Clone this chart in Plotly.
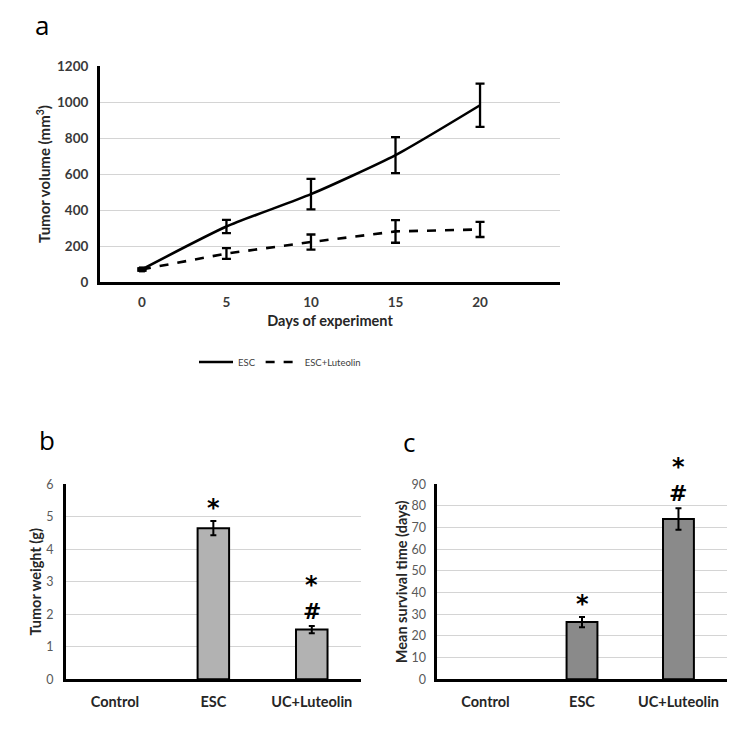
import plotly.graph_objects as go

# ---- Panel a data ----
days = [0, 5, 10, 15, 20]
esc_vol = [70, 308, 488, 705, 982]
esc_err = [6, 37, 85, 100, 120]
lut_vol = [70, 158, 222, 281, 292]
lut_err = [6, 30, 42, 63, 42]

# ---- Panel b data ----
groups = ["Control", "ESC", "UC+Luteolin"]
weight = [0, 4.65, 1.53]
weight_err = [0, 0.22, 0.11]

# ---- Panel c data ----
survival = [0, 26.4, 74.0]
survival_err = [0, 2.4, 5.0]

# page body has an 8px margin on every side; map reference pixel coords into the figure
OFF = 8
W, H = 750 - 2 * OFF, 736 - 2 * OFF
def px(x): return (x - OFF) / W
def py(y): return 1 - (y - OFF) / H

FONT = "Lato, Open Sans, sans-serif"
fig = go.Figure()

# Panel a traces
fig.add_trace(go.Scatter(
    x=days, y=esc_vol, mode="lines", name="ESC",
    line=dict(color="black", width=2.6, shape="spline", smoothing=0.6),
    error_y=dict(type="data", array=esc_err, color="black", thickness=2.3, width=4.5),
    xaxis="x", yaxis="y"))
fig.add_trace(go.Scatter(
    x=days, y=lut_vol, mode="lines", name="ESC+Luteolin",
    line=dict(color="black", width=2.6, dash="dash"),
    error_y=dict(type="data", array=lut_err, color="black", thickness=2.3, width=4.5),
    xaxis="x", yaxis="y"))
fig.add_trace(go.Scatter(
    x=days[:1], y=esc_vol[:1], mode="markers", showlegend=False,
    marker=dict(symbol="square", size=6, color="black"),
    xaxis="x", yaxis="y"))

def nonzero(vals, errs):
    keep = [i for i, v in enumerate(vals) if v > 0]
    return ([groups[i] for i in keep], [vals[i] for i in keep], [errs[i] for i in keep])

# Panel b
gx, gy, ge = nonzero(weight, weight_err)
fig.add_trace(go.Bar(
    x=gx, y=gy, width=0.32, showlegend=False,
    marker=dict(color="#b2b2b2", line=dict(color="black", width=2)),
    error_y=dict(type="data", array=ge, color="black", thickness=2, width=3),
    xaxis="x2", yaxis="y2"))

# Panel c
gx, gy, ge = nonzero(survival, survival_err)
fig.add_trace(go.Bar(
    x=gx, y=gy, width=0.32, showlegend=False,
    marker=dict(color="#8a8a8a", line=dict(color="black", width=2)),
    error_y=dict(type="data", array=ge, color="black", thickness=2, width=3),
    xaxis="x3", yaxis="y3"))

grid = "#d4d4d4"
tickbold = dict(family=FONT, size=13.5, color="#3a3a3a", weight="bold")
ticknorm = dict(family=FONT, size=12.5, color="#595959")
catfont = dict(family=FONT, size=14.5, color="#262626", weight="bold")
titlefont = dict(family=FONT, size=14.5, color="#262626", weight="bold")
titlefont_a = dict(family=FONT, size=15, color="#262626", weight="bold")

fig.update_layout(
    template="none",
    width=W, height=H, margin=dict(l=0, r=0, t=0, b=0, autoexpand=False),
    paper_bgcolor="white", plot_bgcolor="white",
    font=dict(family=FONT),
    showlegend=True,
    legend=dict(orientation="h", x=px(280), xanchor="center", y=py(362), yanchor="middle",
                font=dict(family=FONT, size=9.5, color="#404040"), itemwidth=34,
                bgcolor="rgba(0,0,0,0)"),
    xaxis=dict(domain=[px(100), px(560)], range=[-2.48, 24.73], tickvals=days,
               showgrid=False, zeroline=False, showline=True, linecolor="black", linewidth=3,
               tickfont=tickbold, ticks="", ticklabelstandoff=6, anchor="y", automargin=False,
               title=dict(text="Days of experiment", font=titlefont, standoff=7)),
    yaxis=dict(domain=[py(282), py(66)], range=[0, 1200], dtick=200,
               showgrid=True, gridcolor=grid, gridwidth=1, zeroline=False,
               showline=True, linecolor="black", linewidth=3, tickfont=tickbold, ticks="",
               ticklabelstandoff=6, anchor="x", automargin=False,
               title=dict(text="Tumor volume (mm<sup>3</sup>)", font=titlefont_a, standoff=3)),
    xaxis2=dict(domain=[px(65.7), px(361)], range=[-0.5, 2.5], categoryorder="array",
                categoryarray=groups, tickvals=groups,
                showgrid=False, zeroline=False,
                showline=True, linecolor="black", linewidth=2.5, tickfont=catfont,
                ticks="", ticklabelstandoff=8, anchor="y2", automargin=False),
    yaxis2=dict(domain=[py(679.3), py(484.3)], range=[0, 6], dtick=1,
                showgrid=True, gridcolor=grid, zeroline=False,
                showline=True, linecolor="black", linewidth=2.5, tickfont=ticknorm,
                ticks="", ticklabelstandoff=7, anchor="x2", automargin=False,
                title=dict(text="Tumor weight (g)", font=titlefont, standoff=2)),
    xaxis3=dict(domain=[px(437.3), px(726.7)], range=[-0.5, 2.5], categoryorder="array",
                categoryarray=groups, tickvals=groups,
                showgrid=False, zeroline=False,
                showline=True, linecolor="black", linewidth=2.5, tickfont=catfont,
                ticks="", ticklabelstandoff=8, anchor="y3", automargin=False),
    yaxis3=dict(domain=[py(679.3), py(484.3)], range=[0, 90], dtick=10,
                showgrid=True, gridcolor=grid, zeroline=False,
                showline=True, linecolor="black", linewidth=2.5, tickfont=ticknorm,
                ticks="", ticklabelstandoff=6, anchor="x3", automargin=False,
                title=dict(text="Mean survival time (days)", font=titlefont, standoff=1)),
)

anns = []
for txt, x, y in [("a", 42, 25), ("b", 47, 440), ("c", 409, 442)]:
    anns.append(dict(text=txt, x=px(x), y=py(y), xref="paper", yref="paper",
                     showarrow=False, xanchor="center", yanchor="middle",
                     font=dict(family="Open Sans, sans-serif", size=26, color="black")))
# significance markers
sig = [("x2", "y2", "ESC", 507.7, "*"), ("x2", "y2", "UC+Luteolin", 585, "*"),
       ("x2", "y2", "UC+Luteolin", 611, "#"),
       ("x3", "y3", "ESC", 604, "*"), ("x3", "y3", "UC+Luteolin", 467, "*"),
       ("x3", "y3", "UC+Luteolin", 493.3, "#")]
for xr, yr, cat, y, s in sig:
    anns.append(dict(text=s, x=cat, y=py(y), xref=xr, yref="paper", showarrow=False,
                     xanchor="center", yanchor="middle",
                     font=dict(family="DejaVu Sans", size=24 if s == "*" else 22,
                               color="black", weight="bold")))
fig.update_layout(annotations=anns)

fig.write_html("out.html")
